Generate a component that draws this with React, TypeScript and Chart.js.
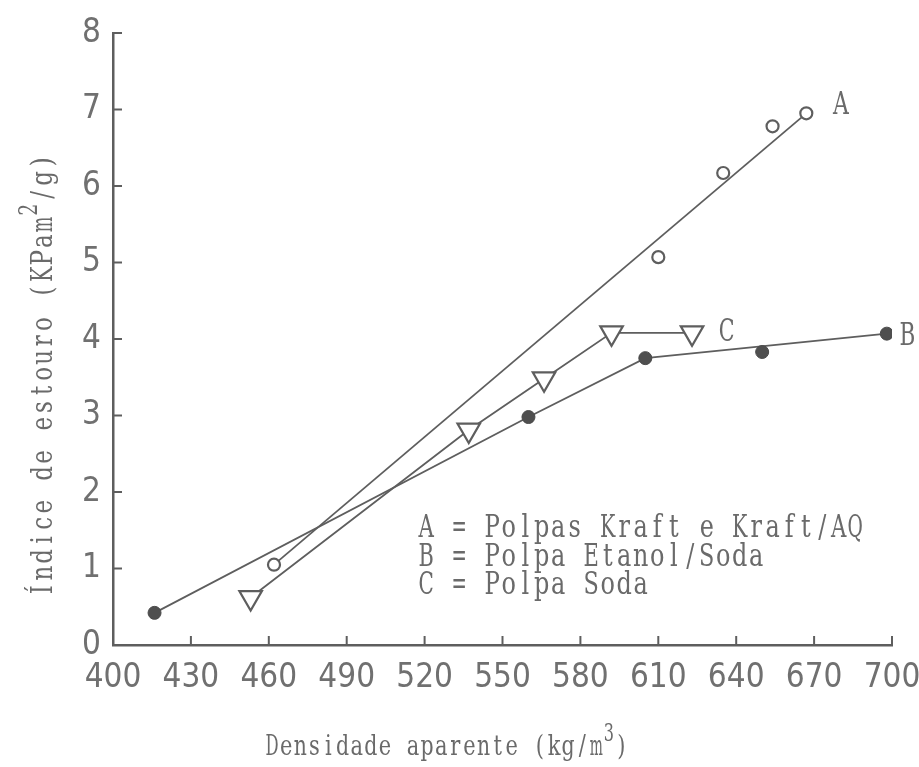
import { useEffect, useRef } from "react";
import { Chart, registerables } from "chart.js";

Chart.register(...registerables);

// ---- data ----
const densityA = [462, 610, 635, 654, 667];
const indexA = [1.05, 5.07, 6.17, 6.78, 6.95];
const fitADensity = [462, 667];
const fitAIndex = [1.05, 6.95];

const densityB = [416, 560, 605, 650, 698];
const indexB = [0.42, 2.98, 3.75, 3.83, 4.07];
const fitBDensity = [416, 560, 605, 698];
const fitBIndex = [0.42, 2.98, 3.75, 4.07];

const densityC = [453, 537, 566, 592, 623];
const indexC = [0.62, 2.81, 3.48, 4.08, 4.08];

const xTickValues = [400, 430, 460, 490, 520, 550, 580, 610, 640, 670, 700];
const yTickValues = [0, 1, 2, 3, 4, 5, 6, 7, 8];

const legendLines = [
  "A = Polpas Kraft e Kraft/AQ",
  "B = Polpa Etanol/Soda",
  "C = Polpa Soda",
];
const seriesNames = ["A", "B", "C"];
const yTitleMain = "Índice de estouro (KPam";
const yTitleSup = "2";
const yTitleEnd = "/g)";
const xTitleMain = "Densidade aparente (kg/m";
const xTitleSup = "3";
const xTitleEnd = ")";

const INK = "#5e5e5e";
const TEXT = "#6a6a6a";
const SERIF = "'DejaVu Serif', 'Liberation Serif', serif";
const TICKFONT = "'Liberation Sans Narrow', 'DejaVu Sans Condensed', 'Open Sans', sans-serif";

const pts = (xs: number[], ys: number[]) => xs.map((x, i) => ({ x, y: ys[i] }));

type Part = { text: string; size: number; cell: number; rise: number };

// typewriter-like text: every character in a fixed-width cell, stretched vertically
function drawTypewriter(
  ctx: CanvasRenderingContext2D,
  parts: Part[],
  x: number,
  y: number,
  stretch: number,
  rotate = 0
) {
  ctx.save();
  ctx.translate(x, y);
  if (rotate) ctx.rotate(rotate);
  ctx.textBaseline = "alphabetic";
  ctx.textAlign = "center";
  let cx = 0;
  for (const p of parts) {
    ctx.font = `${p.size}px ${SERIF}`;
    for (const ch of Array.from(p.text)) {
      if (ch !== " ") {
        const w = ctx.measureText(ch).width;
        const sx = Math.min(1, (p.cell * 0.93) / Math.max(w, 0.01));
        ctx.save();
        ctx.translate(cx + p.cell / 2, -p.rise);
        ctx.scale(sx, stretch);
        ctx.fillText(ch, 0, 0);
        ctx.restore();
      }
      cx += p.cell;
    }
  }
  ctx.restore();
}

const decorations = {
  id: "decorations",
  afterDraw(chart: any) {
    const { ctx, chartArea, scales } = chart;
    const xs = scales.x;
    const ys = scales.y;
    ctx.save();
    // inner tick marks
    ctx.strokeStyle = INK;
    ctx.lineWidth = 2;
    for (const v of xTickValues) {
      const px = xs.getPixelForValue(v);
      ctx.beginPath();
      ctx.moveTo(px, chartArea.bottom);
      ctx.lineTo(px, chartArea.bottom - 9);
      ctx.stroke();
    }
    for (const v of yTickValues) {
      const py = ys.getPixelForValue(v);
      ctx.beginPath();
      ctx.moveTo(chartArea.left, py);
      ctx.lineTo(chartArea.left + 9, py);
      ctx.stroke();
    }
    ctx.fillStyle = TEXT;
    // series labels next to the curves
    const lastA = densityA.length - 1;
    const lastB = densityB.length - 1;
    const lastC = densityC.length - 1;
    const lab = (t: string): Part[] => [{ text: t, size: 24, cell: 17, rise: 0 }];
    drawTypewriter(ctx, lab(seriesNames[0]),
      xs.getPixelForValue(densityA[lastA]) + 26, ys.getPixelForValue(indexA[lastA]) + 1, 1.3);
    drawTypewriter(ctx, lab(seriesNames[1]),
      xs.getPixelForValue(densityB[lastB]) + 12, ys.getPixelForValue(indexB[lastB]) + 11, 1.3);
    drawTypewriter(ctx, lab(seriesNames[2]),
      xs.getPixelForValue(densityC[lastC]) + 26, ys.getPixelForValue(indexC[lastC]) + 8, 1.3);
    // legend block
    legendLines.forEach((t, i) => {
      drawTypewriter(ctx, [{ text: t, size: 24, cell: 16.5, rise: 0 }], 418, 537 + i * 28.5, 1.3);
    });
    // x title
    drawTypewriter(ctx, [
      { text: xTitleMain, size: 21, cell: 14.1, rise: 0 },
      { text: xTitleSup, size: 18, cell: 11, rise: 14 },
      { text: xTitleEnd, size: 21, cell: 14.1, rise: 0 },
    ], 265, 755, 1.35);
    // y title (rotated)
    drawTypewriter(ctx, [
      { text: yTitleMain, size: 23, cell: 16.6, rise: 0 },
      { text: yTitleSup, size: 20, cell: 13, rise: 15 },
      { text: yTitleEnd, size: 23, cell: 16.6, rise: 0 },
    ], 52, 598, 1.3, -Math.PI / 2);
    ctx.restore();
  },
};

export default function App() {
  const ref = useRef<HTMLCanvasElement | null>(null);
  useEffect(() => {
    if (!ref.current) return;
    const chart = new Chart(ref.current, {
      type: "scatter",
      data: {
        datasets: [
          {
            label: "A fit",
            data: pts(fitADensity, fitAIndex),
            showLine: true,
            pointRadius: 0,
            borderColor: INK,
            borderWidth: 1.8,
            order: 2,
          },
          {
            label: "A",
            data: pts(densityA, indexA),
            showLine: false,
            pointStyle: "circle",
            pointRadius: 6,
            pointBorderWidth: 2.2,
            pointBorderColor: INK,
            pointBackgroundColor: "#ffffff",
            order: 0,
          },
          {
            label: "B fit",
            data: pts(fitBDensity, fitBIndex),
            showLine: true,
            pointRadius: 0,
            borderColor: INK,
            borderWidth: 1.8,
            order: 2,
          },
          {
            label: "B",
            data: pts(densityB, indexB),
            showLine: false,
            pointStyle: "circle",
            pointRadius: 6.5,
            pointBorderWidth: 1,
            pointBorderColor: "#4a4a4a",
            pointBackgroundColor: "#4f4f4f",
            order: 0,
          },
          {
            label: "C",
            data: pts(densityC, indexC),
            showLine: true,
            borderColor: INK,
            borderWidth: 1.8,
            pointStyle: "triangle",
            pointRotation: 180,
            pointRadius: 13,
            pointBorderWidth: 2.2,
            pointBorderColor: INK,
            pointBackgroundColor: "#ffffff",
            order: 1,
          },
        ],
      },
      options: {
        animation: false,
        responsive: false,
        layout: { padding: { left: 0, top: 33, right: 27, bottom: 0 } },
        plugins: { legend: { display: false }, tooltip: { enabled: false } },
        scales: {
          x: {
            type: "linear",
            min: 400,
            max: 700,
            afterBuildTicks: (s: any) => {
              s.ticks = xTickValues.map((v) => ({ value: v }));
            },
            afterFit: (s: any) => {
              s.height = 122;
              s.paddingLeft = 0;
              s.paddingRight = 0;
            },
            grid: { display: false, drawTicks: false },
            border: { display: true, color: INK, width: 2.5 },
            ticks: {
              padding: 14,
              color: "#707070",
              font: { family: TICKFONT, size: 33 },
              maxRotation: 0,
              autoSkip: false,
              callback: (v: any) => String(v),
            },
          },
          y: {
            type: "linear",
            min: 0,
            max: 8,
            afterBuildTicks: (s: any) => {
              s.ticks = yTickValues.map((v) => ({ value: v }));
            },
            afterFit: (s: any) => {
              s.width = 113;
              s.paddingTop = 0;
              s.paddingBottom = 0;
            },
            grid: { display: false, drawTicks: false },
            border: { display: true, color: INK, width: 2.5 },
            ticks: {
              padding: 12,
              color: "#707070",
              font: { family: TICKFONT, size: 33 },
              autoSkip: false,
              callback: (v: any) => String(v),
            },
          },
        },
      },
      plugins: [decorations],
    });
    return () => chart.destroy();
  }, []);
  return (
    <div style={{ position: "fixed", left: 0, top: 0, width: 919, height: 767, background: "#fff" }}>
      <canvas ref={ref} width={919} height={767} style={{ width: 919, height: 767, display: "block" }} />
    </div>
  );
}
